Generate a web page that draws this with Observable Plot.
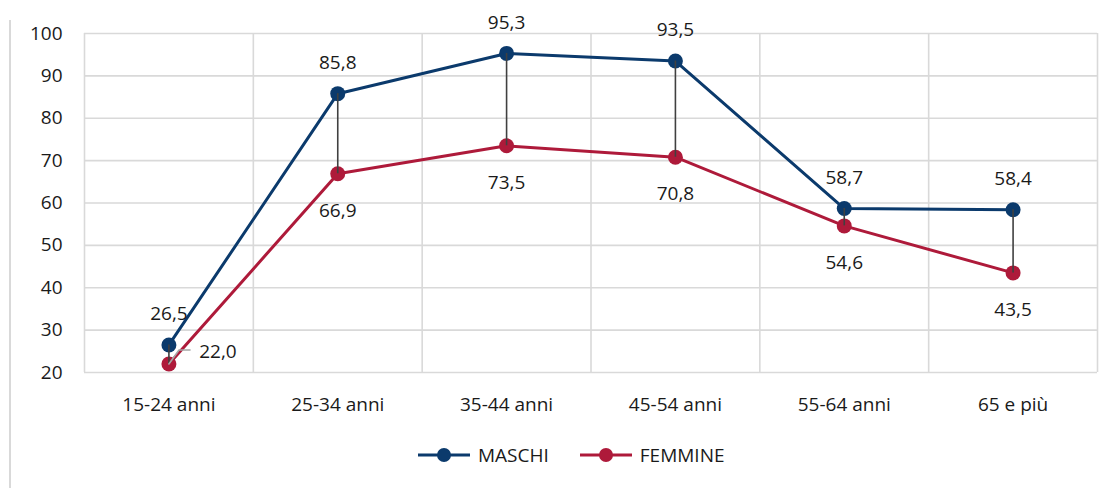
<!DOCTYPE html>
<html><head><meta charset="utf-8">
<script src="https://cdn.jsdelivr.net/npm/d3@7"></script>
<script src="https://cdn.jsdelivr.net/npm/@observablehq/plot@0.6"></script>
<style>
body{margin:0;background:#fff;font-family:"Open Sans",sans-serif;}
#wrap{position:relative;width:1116px;height:488px;overflow:hidden;background:#fff}
#chart{position:absolute;left:0;top:0}
#frame{position:absolute;left:9px;top:20px;width:2px;height:470px;background:#d9d9d9}
#legend{position:absolute;top:443px;left:418px;display:flex;align-items:center;font-size:19px;color:#1a1a1a;height:24px}
.item{display:flex;align-items:center}
.item svg{margin-right:8px}
</style></head>
<body>
<div id="wrap">
  <div id="frame"></div>
  <div id="chart"></div>
  <div id="legend"></div>
</div>
<script>
const categories = ["15-24 anni","25-34 anni","35-44 anni","45-54 anni","55-64 anni","65 e più"];
const maschi = [26.5, 85.8, 95.3, 93.5, 58.7, 58.4];
const femmine = [22.0, 66.9, 73.5, 70.8, 54.6, 43.5];
const seriesNames = ["MASCHI","FEMMINE"];
const colors = ["#0b3a6c","#ae1a3a"];

const fmt = v => v.toFixed(1).replace(".", ",");
const rows = categories.map((c,i)=>({cat:c, x:i+0.5, m:maschi[i], f:femmine[i]}));
const long = rows.flatMap(r=>[{x:r.x, y:r.m, s:seriesNames[0]},{x:r.x, y:r.f, s:seriesNames[1]}]);
const first = rows[0];
const leader = [
  {x:first.x, y:first.f},
  {x:first.x+0.06, y:first.f+3.3},
  {x:first.x+0.125, y:first.f+3.3}
];

const chart = Plot.plot({
  width:1116, height:430,
  marginTop:33, marginBottom:58, marginLeft:84, marginRight:19,
  style:{fontFamily:"'Open Sans', sans-serif", fontSize:"19px", color:"#1a1a1a", background:"transparent"},
  x:{domain:[0,categories.length], label:null},
  y:{domain:[20,100], label:null},
  color:{domain:seriesNames, range:colors},
  marks:[
    Plot.gridY(d3.range(20,101,10), {stroke:"#d9d9d9", strokeOpacity:1, strokeWidth:1.6}),
    Plot.gridX(d3.range(0,categories.length+1), {stroke:"#d9d9d9", strokeOpacity:1, strokeWidth:1.6}),
    Plot.axisY(d3.range(20,101,10), {tickSize:0, tickPadding:22, fontSize:19, label:null}),
    Plot.axisX(rows.map(r=>r.x), {tickSize:0, tickPadding:25, fontSize:19, label:null, tickFormat:v=>categories[Math.floor(v)]}),
    Plot.line(long, {x:"x", y:"y", z:"s", stroke:"s", strokeWidth:3}),
    Plot.dot(long, {x:"x", y:"y", fill:"s", r:7.5}),
    Plot.ruleX(rows, {x:"x", y1:"m", y2:"f", stroke:"#404040", strokeWidth:1.6}),
    Plot.line(leader, {x:"x", y:"y", stroke:"#a6a6a6", strokeWidth:1.6}),
    Plot.text(rows, {x:"x", y:"m", text:d=>fmt(d.m), dy:-31, fill:"#1a1a1a", fontSize:19}),
    Plot.text(rows.slice(1), {x:"x", y:"f", text:d=>fmt(d.f), dy:37, fill:"#1a1a1a", fontSize:19}),
    Plot.text([first], {x:"x", y:"f", text:d=>fmt(d.f), dx:49, dy:-12, fill:"#1a1a1a", fontSize:19})
  ]
});
document.getElementById("chart").appendChild(chart);

const legend = document.getElementById("legend");
seriesNames.forEach((name,i)=>{
  const item = document.createElement("div");
  item.className = "item";
  if (i>0) item.style.marginLeft = "31px";
  item.innerHTML = `<svg width="52" height="20"><line x1="0" y1="10" x2="52" y2="10" stroke="${colors[i]}" stroke-width="3"/><circle cx="26" cy="10" r="7" fill="${colors[i]}"/></svg><span>${name}</span>`;
  legend.appendChild(item);
});
</script>
</body></html>
